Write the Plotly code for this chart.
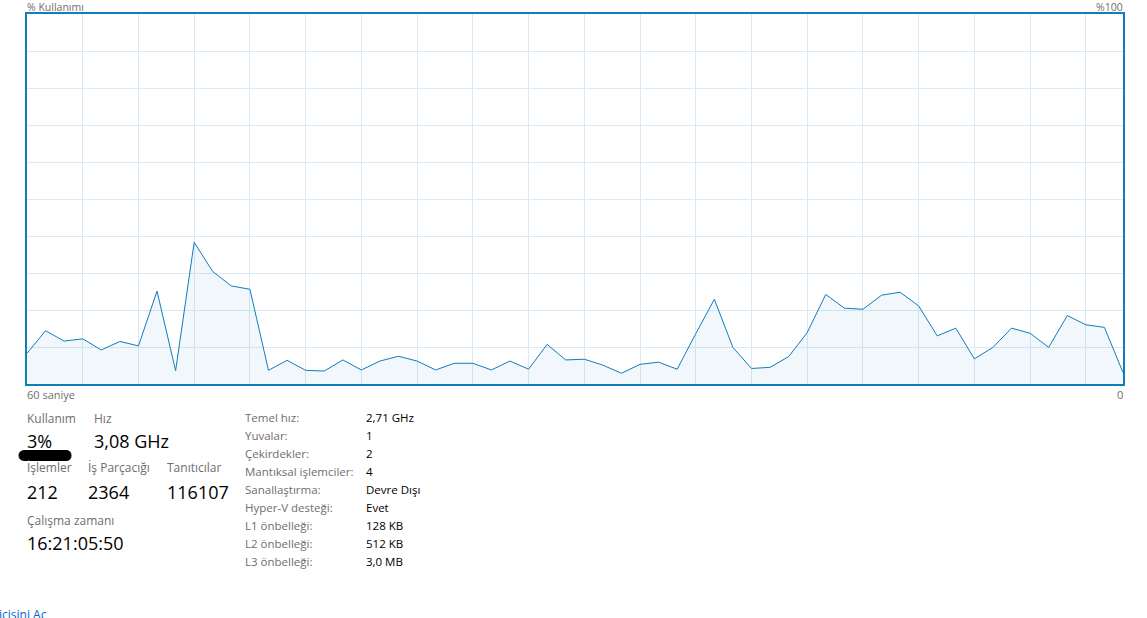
import plotly.graph_objects as go

# ---- data ----
seconds = list(range(60))  # 60 samples, oldest (left) to newest (right)
cpu_usage = [8.3, 14.4, 11.6, 12.2, 9.2, 11.5, 10.3, 25.1, 3.6, 38.3,
             30.4, 26.5, 25.6, 3.7, 6.4, 3.7, 3.5, 6.5, 3.8, 6.2,
             7.5, 6.2, 3.8, 5.6, 5.6, 3.8, 6.2, 4.0, 10.7, 6.5,
             6.7, 5.1, 2.9, 5.3, 5.9, 4.0, 13.6, 22.9, 9.9, 4.2,
             4.5, 7.4, 13.9, 24.2, 20.5, 20.2, 24.0, 24.8, 21.1, 13.0,
             15.1, 6.8, 9.9, 15.1, 13.7, 9.9, 18.5, 16.0, 15.3, 3.1]

stat_labels_top = ["Kullanım", "Hız"]
stat_values_top = ["3%", "3,08 GHz"]
stat_labels_mid = ["İşlemler", "İş Parçacığı", "Tanıtıcılar"]
stat_values_mid = ["212", "2364", "116107"]
uptime_label = "Çalışma zamanı"
uptime_value = "16:21:05:50"
spec_labels = ["Temel hız:", "Yuvalar:", "Çekirdekler:", "Mantıksal işlemciler:",
               "Sanallaştırma:", "Hyper-V desteği:", "L1 önbelleği:",
               "L2 önbelleği:", "L3 önbelleği:"]
spec_values = ["2,71 GHz", "1", "2", "4", "Devre Dışı", "Evet",
               "128 KB", "512 KB", "3,0 MB"]

# ---- layout geometry (pixels) ----
W, H = 1147, 618
L, R, T, B = 27, 24, 14, 234
PW, PH = W - L - R, H - T - B
BOTTOM = H - B

def px(x):
    return (x - L) / PW

def py(y):
    return (BOTTOM - y) / PH

FONT = "Open Sans, Noto Sans, sans-serif"
GREY = "#6e6e6e"
BLUE = "#117DBB"

fig = go.Figure()
fig.add_trace(go.Scatter(
    x=seconds, y=cpu_usage, mode="lines",
    line=dict(color=BLUE, width=1),
    fill="tozeroy", fillcolor="rgba(17,125,187,0.06)",
    hoverinfo="skip", showlegend=False))

ann = []

def text(x, y, s, size, color, anchor="left"):
    ann.append(dict(x=px(x), y=py(y), xref="paper", yref="paper", text=s,
                    showarrow=False, xanchor=anchor, yanchor="middle",
                    font=dict(family=FONT, size=size, color=color)))

text(25, 6.5, "% Kullanımı", 10.5, GREY)
text(1125, 6.5, "%100", 10.5, GREY, "right")
text(25, 394, "60 saniye", 11, GREY)
text(1125, 394, "0", 11, GREY, "right")

top_x = [25, 92]
for xx, lab, val in zip(top_x, stat_labels_top, stat_values_top):
    text(xx, 418, lab, 12, GREY)
    text(xx, 441, val, 18, "#000000")

mid_x = [25, 86, 165]
for xx, lab, val in zip(mid_x, stat_labels_mid, stat_values_mid):
    text(xx, 468, lab, 12, GREY)
    text(xx, 492, val, 18, "#000000")

text(25, 520, uptime_label, 12, GREY)
text(25, 543, uptime_value, 18, "#000000")

for k, (lab, val) in enumerate(zip(spec_labels, spec_values)):
    yy = 417 + 18 * k
    text(243, yy, lab, 11.5, GREY)
    text(364, yy, val, 11.5, "#000000")

text(-3, 614, "icisini Aç", 12, "#0066CC")

# redaction blob under "3%"
blob = ("M {a},{t} L {b},{t} Q {r},{t} {r},{m} Q {r},{bt} {b},{bt} "
        "L {a},{bt} Q {l},{bt} {l},{m} Q {l},{t} {a},{t} Z").format(
    a=px(25), b=px(66), l=px(19), r=px(71), t=py(450.5), m=py(455.5), bt=py(460.5))

fig.update_layout(
    width=W, height=H,
    margin=dict(l=L, r=R, t=T, b=B),
    paper_bgcolor="white", plot_bgcolor="white",
    xaxis=dict(range=[0, 59], dtick=3, tick0=0, showticklabels=False, ticks="",
               showgrid=True, gridcolor="#DAEAF4", gridwidth=1, zeroline=False,
               showline=True, linecolor=BLUE, linewidth=1.5, mirror=True, fixedrange=True),
    yaxis=dict(range=[0, 100], dtick=10, showticklabels=False, ticks="",
               showgrid=True, gridcolor="#DAEAF4", gridwidth=1, zeroline=False,
               showline=True, linecolor=BLUE, linewidth=1.5, mirror=True, fixedrange=True),
    annotations=ann,
    shapes=[dict(type="path", path=blob, xref="paper", yref="paper",
                 fillcolor="#000000", line=dict(color="#000000", width=1))],
)

fig.write_html("out.html", config={"displayModeBar": False})
